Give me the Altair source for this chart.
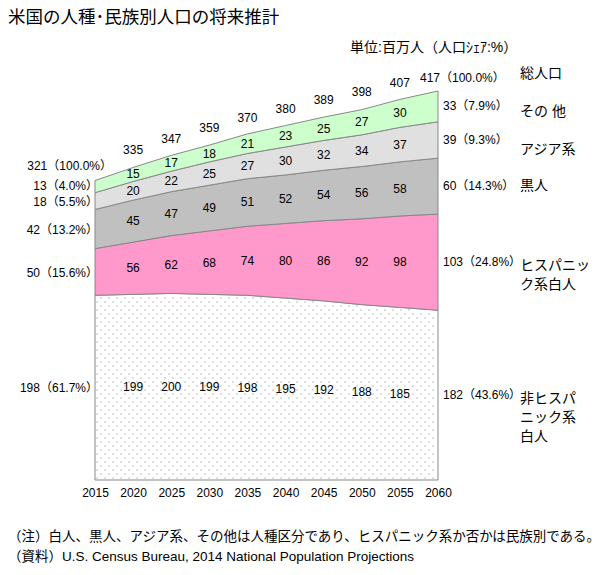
import altair as alt
import numpy as np
import pandas as pd

# ---- data (millions) ----
years = [2015, 2020, 2025, 2030, 2035, 2040, 2045, 2050, 2055, 2060]
white_nh = [198, 199, 200, 199, 198, 195, 192, 188, 185, 182]
hispanic = [50, 56, 62, 68, 74, 80, 86, 92, 98, 103]
black = [42, 45, 47, 49, 51, 52, 54, 56, 58, 60]
asian = [18, 20, 22, 25, 27, 30, 32, 34, 37, 39]
other = [13, 15, 17, 18, 21, 23, 25, 27, 30, 33]
total = [321, 335, 347, 359, 370, 380, 389, 398, 407, 417]
share_2015 = [61.7, 15.6, 13.2, 5.5, 4.0]
share_2060 = [43.6, 24.8, 14.3, 9.3, 7.9]

keys = ["white", "hispanic", "black", "asian", "other"]
cat_names = ["非ヒスパ\nニック系\n白人", "ヒスパニッ\nク系白人", "黒人", "アジア系", "その 他"]
cat_dy = [4, 4, 0, 10, 6]
left_dy = [0, 1, 1, 1, -1]
colors = ["#ffffff", "#ff99cc", "#c0c0c0", "#e0e0e0", "#ccffcc"]
series = [white_nh, hispanic, black, asian, other]

title_text = "米国の人種･民族別人口の将来推計"
unit_text = "単位:百万人（人口ｼｪｱ:%）"
total_name = "総人口"
note1 = "（注）白人、黒人、アジア系、その他は人種区分であり、ヒスパニック系か否かは民族別である。"
note2 = "（資料）U.S. Census Bureau, 2014 National Population Projections"

FONT = "Liberation Sans, Noto Sans CJK JP"

# ---- geometry ----
W, H = 343, 440
PX_UNIT = 389 / 417
YMAX = H / PX_UNIT
xs = alt.Scale(domain=[2015, 2060], nice=False, zero=False)
ys = alt.Scale(domain=[0, YMAX], nice=False, zero=True)
x_axis = alt.Axis(values=years, format="d", domain=False, ticks=False, grid=False,
                  labelFont=FONT, labelFontSize=12, labelColor="black", labelFlush=False,
                  labelFontWeight="normal", labelOverlap=False, labelPadding=7, title=None)


def X(field):
    return alt.X(field, scale=xs, axis=x_axis)


def Y(field):
    return alt.Y(field, scale=ys, axis=None)


# ---- long table ----
rows = []
lo = np.zeros(len(years))
for k, s in zip(keys, series):
    s = np.array(s, dtype=float)
    for i, yr in enumerate(years):
        rows.append(dict(key=k, year=yr, val=int(s[i]), lo=lo[i], hi=lo[i] + s[i], mid=lo[i] + s[i] / 2))
    lo = lo + s
df = pd.DataFrame(rows)

areas = alt.Chart(df).mark_area(stroke="#888888", strokeWidth=1, fillOpacity=1, interpolate="linear").encode(
    x=X("year:Q"),
    y=Y("lo:Q"),
    y2="hi:Q",
    color=alt.Color("key:N", scale=alt.Scale(domain=keys, range=colors), legend=None),
    order=alt.Order("key:N"),
)

# dotted texture for the white area (derived from the white series via the same scales)
px_year = W / 45
dots = []
r = 0
ypx = 2.0
while ypx < 200:
    off = 2 + (r % 2) * 4
    xpx = off
    while xpx < W - 1:
        yr = 2015 + xpx / px_year
        v = ypx / PX_UNIT
        if v < np.interp(yr, years, white_nh) - 1.5 / PX_UNIT:
            dots.append(dict(year=yr, v=v))
        xpx += 8
    ypx += 4
    r += 1
dots_df = pd.DataFrame(dots)
dot_layer = alt.Chart(dots_df).mark_square(size=1.3, color="#8a8a8a", opacity=1).encode(
    x=X("year:Q"), y=Y("v:Q")
)

# interior labels
inner = df[(df.year > 2015) & (df.year < 2060)]
inner_txt = alt.Chart(inner).mark_text(font=FONT, fontSize=12, color="black").encode(
    x=X("year:Q"), y=Y("mid:Q"), text="val:N"
)

# left / right end labels
left_df = df[df.year == 2015].copy()
left_df["lab"] = [f"{v}（{p}%）" for v, p in zip(left_df.val, share_2015)]
right_df = df[df.year == 2060].copy()
right_df["lab"] = [f"{v}（{p}%）" for v, p in zip(right_df.val, share_2060)]
left_layers = []
for i in range(len(keys)):
    left_layers.append(
        alt.Chart(left_df.iloc[[i]]).mark_text(font=FONT, fontSize=12, color="black", align="right", dx=3,
                                               dy=left_dy[i]).encode(
            x=X("year:Q"), y=Y("mid:Q"), text="lab:N")
    )
right_txt = alt.Chart(right_df).mark_text(font=FONT, fontSize=12, color="black", align="left", dx=5).encode(
    x=X("year:Q"), y=Y("mid:Q"), text="lab:N"
)

# totals
tot_df = pd.DataFrame({"year": years, "total": total})
tot_inner = alt.Chart(tot_df[(tot_df.year > 2015) & (tot_df.year < 2060)]).mark_text(
    font=FONT, fontSize=12, color="black", dy=-17).encode(
    x=X("year:Q"), y=Y("total:Q"), text="total:N"
)
tot_first = tot_df[tot_df.year == 2015].copy()
tot_first["lab"] = [f"{t}（100.0%）" for t in tot_first.total]
tot_last = tot_df[tot_df.year == 2060].copy()
tot_last["lab"] = [f"{t}（100.0%）" for t in tot_last.total]
tot_l = alt.Chart(tot_first).mark_text(font=FONT, fontSize=12, color="black", align="right", dx=17, dy=-15).encode(
    x=X("year:Q"), y=Y("total:Q"), text="lab:N"
)
tot_r = alt.Chart(tot_last).mark_text(font=FONT, fontSize=12, color="black", align="left", dx=-18, dy=-13).encode(
    x=X("year:Q"), y=Y("total:Q"), text="lab:N"
)

# category names at the right
cat_layers = []
for k, name, ddy in zip(keys, cat_names, cat_dy):
    d = df[(df.year == 2060) & (df.key == k)].copy()
    d["name"] = name
    cat_layers.append(
        alt.Chart(d).mark_text(font=FONT, fontSize=14, color="black", align="left", dx=82, dy=ddy,
                               lineBreak="\n", lineHeight=19).encode(
            x=X("year:Q"), y=Y("mid:Q"), text="name:N")
    )
tot_name_df = tot_last.copy()
tot_name_df["name"] = total_name
cat_layers.append(
    alt.Chart(tot_name_df).mark_text(font=FONT, fontSize=14, color="black", align="left", dx=82, dy=-17).encode(
        x=X("year:Q"), y=Y("total:Q"), text="name:N")
)

# free texts (title, unit, notes)
title_m = alt.Chart(pd.DataFrame({"t": [title_text]})).mark_text(
    font=FONT, fontSize=17.5, color="black", align="left", baseline="middle").encode(
    x=alt.value(-87), y=alt.value(-22), text="t:N")
unit_m = alt.Chart(pd.DataFrame({"t": [unit_text]})).mark_text(
    font=FONT, fontSize=14, color="black", align="left", baseline="middle").encode(
    x=alt.value(255), y=alt.value(8), text="t:N")
note1_m = alt.Chart(pd.DataFrame({"t": [note1]})).mark_text(
    font=FONT, fontSize=13.5, color="black", align="left", baseline="middle").encode(
    x=alt.value(-87), y=alt.value(497), text="t:N")
note2_m = alt.Chart(pd.DataFrame({"t": [note2]})).mark_text(
    font=FONT, fontSize=13.5, color="black", align="left", baseline="middle").encode(
    x=alt.value(-87), y=alt.value(517), text="t:N")

chart = alt.layer(
    areas, dot_layer, inner_txt, *left_layers, right_txt, tot_inner, tot_l, tot_r, *cat_layers,
    title_m, unit_m, note1_m, note2_m
).properties(
    width=W, height=H,
    autosize=alt.AutoSizeParams(type="none"),
    padding={"left": 95, "top": 40, "right": 607 - 95 - W, "bottom": 575 - 40 - H},
    background="white",
).configure_view(stroke=None).configure_axis(labelOverlap=False, labelFlush=False, labelFont=FONT,
                                             labelFontWeight="normal")

chart.save("out.html", embed_options={"renderer": "svg", "actions": False})
